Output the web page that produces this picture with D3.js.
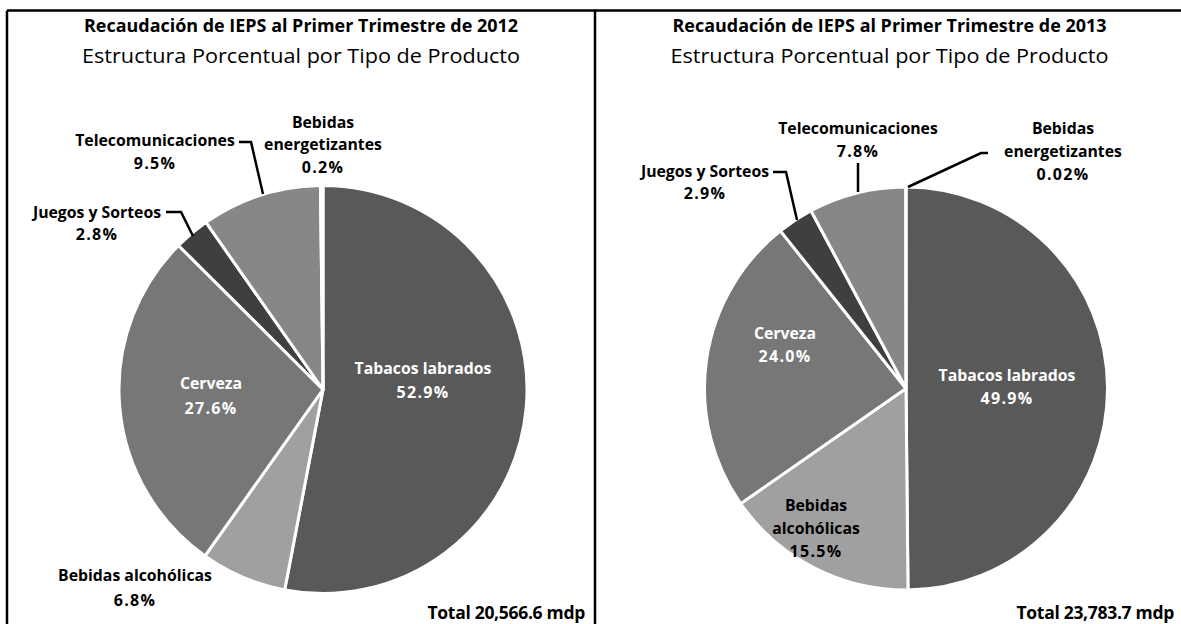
<!DOCTYPE html>
<html>
<head>
<meta charset="utf-8">
<script src="https://cdn.jsdelivr.net/npm/d3@7"></script>
<style>
  html, body { margin: 0; padding: 0; background: #fff; }
  svg { display: block; }
  text { font-family: "Open Sans", Lato, sans-serif; }
</style>
</head>
<body>
<svg id="chart" width="1181" height="624"></svg>
<script>
// ---- data ----
const categories = ["Tabacos labrados", "Bebidas alcohólicas", "Cerveza", "Juegos y Sorteos", "Telecomunicaciones", "Bebidas energetizantes"];
const values2012 = [52.9, 6.8, 27.6, 2.8, 9.5, 0.2];
const values2013 = [49.9, 15.5, 24.0, 2.9, 7.8, 0.02];
const pctLabels2012 = ["52.9%", "6.8%", "27.6%", "2.8%", "9.5%", "0.2%"];
const pctLabels2013 = ["49.9%", "15.5%", "24.0%", "2.9%", "7.8%", "0.02%"];
const titles = ["Recaudación de IEPS al Primer Trimestre de 2012", "Recaudación de IEPS al Primer Trimestre de 2013"];
const subtitle = "Estructura Porcentual por Tipo de Producto";
const totals = ["Total 20,566.6 mdp", "Total 23,783.7 mdp"];

// ---- styling ----
const colors = d3.scaleOrdinal().domain(categories)
  .range(["#595959", "#a0a0a0", "#777777", "#3f3f3f", "#878787", "#b5b5b5"]);

const svg = d3.select("#chart");

const panels = [
  { x0: 7, x1: 595, cx: 323, cy: 389.5, r: 204, values: values2012, pcts: pctLabels2012,
    labels: [
      { lines: ["Tabacos labrados"], x: 423, y: 374, fill: "#fff", pctY: 398 },
      { lines: ["Bebidas alcohólicas"], x: 135, y: 581, fill: "#000", pctY: 606 },
      { lines: ["Cerveza"], x: 211, y: 389, fill: "#fff", pctY: 414 },
      { lines: ["Juegos y Sorteos"], x: 97, y: 218, fill: "#000", pctY: 240,
        leader: [[166, 212], [181, 212], [193, 236]] },
      { lines: ["Telecomunicaciones"], x: 155, y: 146, fill: "#000", pctY: 169,
        leader: [[239, 142], [251, 142], [263, 194]] },
      { lines: ["Bebidas", "energetizantes"], x: 323, y: 128, fill: "#000", pctY: 173, lh: 22 }
    ] },
  { x0: 595, x1: 1184, cx: 906, cy: 388.5, r: 201.5, values: values2013, pcts: pctLabels2013,
    labels: [
      { lines: ["Tabacos labrados"], x: 1007, y: 381, fill: "#fff", pctY: 404 },
      { lines: ["Bebidas", "alcohólicas"], x: 816, y: 511, fill: "#000", pctY: 557, lh: 23 },
      { lines: ["Cerveza"], x: 785, y: 339, fill: "#fff", pctY: 362 },
      { lines: ["Juegos y Sorteos"], x: 705, y: 177, fill: "#000", pctY: 199,
        leader: [[773, 172], [786, 172], [797, 220]] },
      { lines: ["Telecomunicaciones"], x: 858, y: 134, fill: "#000", pctY: 157,
        leader: [[858, 163], [858, 192]] },
      { lines: ["Bebidas", "energetizantes"], x: 1063, y: 134, fill: "#000", pctY: 180, lh: 23,
        leader: [[988, 153], [981, 153], [908, 187]] }
    ] }
];

svg.append("path")
  .attr("d", "M7,10.5 H1190 M7,10.5 V640 M595,10.5 V640")
  .attr("stroke", "#000").attr("stroke-width", 2.5).attr("fill", "none");

panels.forEach((p, i) => {
  const g = svg.append("g");
  const mid = (p.x0 + p.x1) / 2;
  g.append("text").attr("x", mid).attr("y", 32).attr("text-anchor", "middle")
    .attr("font-weight", "bold").attr("font-size", 17).attr("textLength", 434)
    .attr("lengthAdjust", "spacingAndGlyphs").text(titles[i]);
  g.append("text").attr("x", mid).attr("y", 63).attr("text-anchor", "middle")
    .attr("font-size", 19.5).attr("textLength", 438)
    .attr("lengthAdjust", "spacingAndGlyphs").text(subtitle);

  const pie = d3.pie().sort(null).value(d => d.v).startAngle(0).endAngle(2 * Math.PI);
  const arcs = pie(categories.map((c, k) => ({ c, v: p.values[k] })));
  const arc = d3.arc().innerRadius(0).outerRadius(p.r);
  const pg = g.append("g").attr("transform", `translate(${p.cx},${p.cy})`);
  pg.selectAll("path").data(arcs).join("path")
    .attr("d", arc)
    .attr("fill", d => colors(d.data.c))
    .attr("stroke", "#fff").attr("stroke-width", 3).attr("stroke-linejoin", "round");

  p.labels.forEach(l => {
    if (!l.leader) return;
    g.append("polyline").attr("points", l.leader.map(q => q.join(",")).join(" "))
      .attr("fill", "none").attr("stroke", "#000").attr("stroke-width", 2.5);
  });

  p.labels.forEach((l, k) => {
    const lh = l.lh || 23;
    l.lines.forEach((line, j) => {
      g.append("text").attr("x", l.x).attr("y", l.y + j * lh).attr("text-anchor", "middle")
        .attr("font-weight", "bold").attr("font-size", 15.8).attr("fill", l.fill)
        .text(line);
    });
    g.append("text").attr("x", l.x).attr("y", l.pctY).attr("text-anchor", "middle")
      .attr("font-weight", "bold").attr("font-size", 16).attr("fill", l.fill)
      .attr("letter-spacing", 1.3).text(p.pcts[k]);
  });

  g.append("text").attr("x", p.x1 - 10).attr("y", 619).attr("text-anchor", "end")
    .attr("font-weight", "bold").attr("font-size", 17.5).attr("letter-spacing", -0.3).text(totals[i]);
});
</script>
</body>
</html>
